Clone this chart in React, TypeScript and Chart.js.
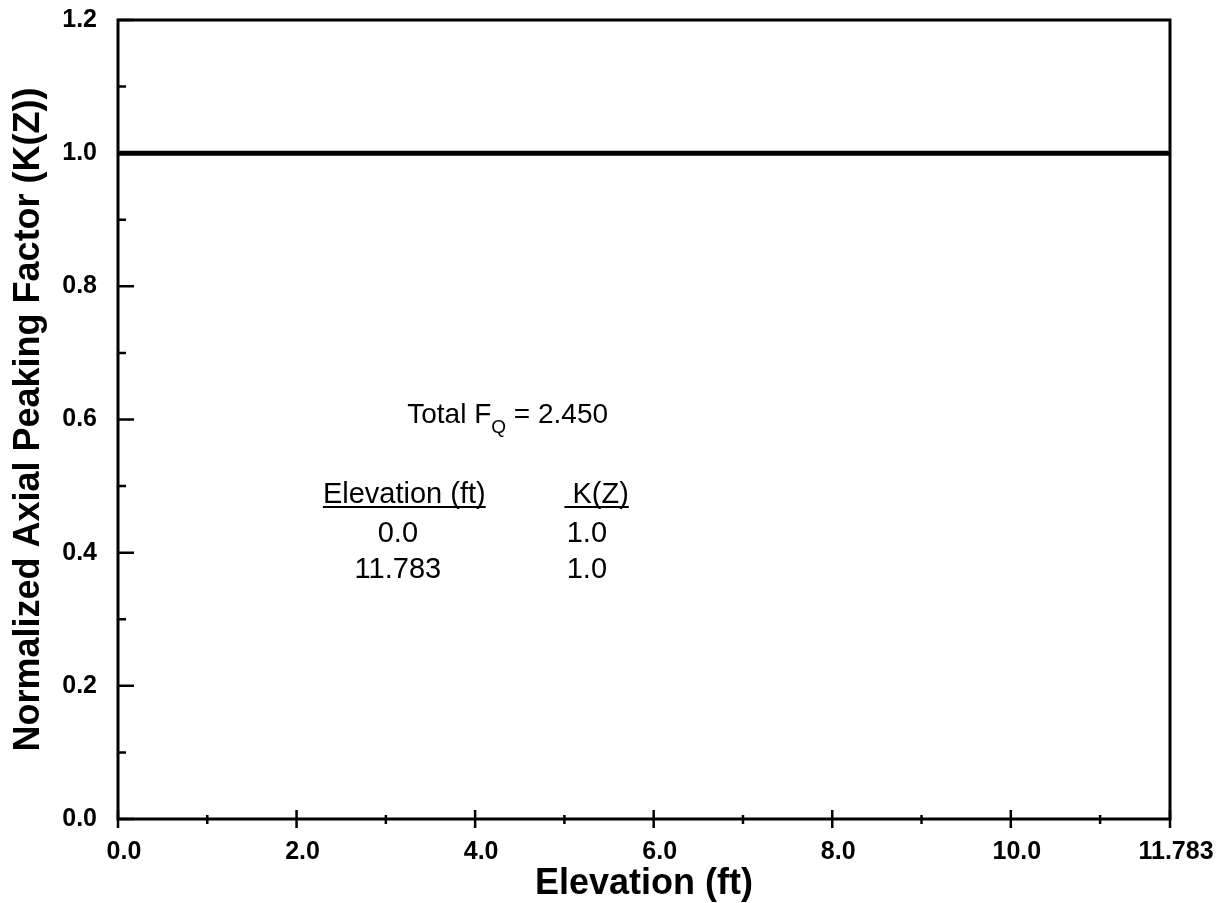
import React, { useEffect, useRef } from "react";
import { Chart, registerables } from "chart.js";

Chart.register(...registerables);

// ---- Data ----
const elevations = [0.0, 11.783];
const kValues = [1.0, 1.0];

const xMajorTicks = [0, 2, 4, 6, 8, 10, 11.783];
const xTickLabels = ["0.0", "2.0", "4.0", "6.0", "8.0", "10.0", "11.783"];
const xMinorTicks = [1, 3, 5, 7, 9, 11];
const yMajorTicks = [0, 0.2, 0.4, 0.6, 0.8, 1.0, 1.2];
const yTickLabels = ["0.0", "0.2", "0.4", "0.6", "0.8", "1.0", "1.2"];
const yMinorTicks = [0.1, 0.3, 0.5, 0.7, 0.9, 1.1];

const totalFQ = "2.450";
const tableHeaders = ["Elevation (ft)", " K(Z)"];
const tableElevations = ["0.0", "11.783"];
const tableK = ["1.0", "1.0"];

const xTitle = "Elevation (ft)";
const yTitle = "Normalized Axial Peaking Factor (K(Z))";

const FONT = "'Liberation Sans', Arial, Helvetica, sans-serif";

const frameTicksPlugin = {
  id: "frameTicks",
  afterDraw(chart: any) {
    const { ctx, chartArea } = chart;
    const xs = chart.scales.x;
    const ys = chart.scales.y;
    const { left, right, top, bottom } = chartArea;
    ctx.save();
    ctx.strokeStyle = "#000";
    ctx.lineWidth = 3;
    ctx.strokeRect(left, top, right - left, bottom - top);

    ctx.lineWidth = 2.5;
    ctx.beginPath();
    yMajorTicks.forEach((v) => {
      const p = ys.getPixelForValue(v);
      ctx.moveTo(left, p);
      ctx.lineTo(left + 16, p);
    });
    yMinorTicks.forEach((v) => {
      const p = ys.getPixelForValue(v);
      ctx.moveTo(left, p);
      ctx.lineTo(left + 8, p);
    });
    xMajorTicks.forEach((v) => {
      const p = xs.getPixelForValue(v);
      ctx.moveTo(p, bottom - 9);
      ctx.lineTo(p, bottom + 9);
    });
    xMinorTicks.forEach((v) => {
      const p = xs.getPixelForValue(v);
      ctx.moveTo(p, bottom - 4);
      ctx.lineTo(p, bottom + 5);
    });
    ctx.stroke();

    // ---- annotation ----
    const px = (v: number) => xs.getPixelForValue(v);
    const py = (v: number) => ys.getPixelForValue(v);
    ctx.fillStyle = "#000";
    ctx.textBaseline = "alphabetic";
    ctx.textAlign = "left";

    // Total F_Q = 2.450
    let x = px(3.24);
    const yb = py(0.595);
    ctx.font = `28px ${FONT}`;
    ctx.fillText("Total F", x, yb);
    x += ctx.measureText("Total F").width;
    ctx.font = `19px ${FONT}`;
    ctx.fillText("Q", x, yb + 10);
    x += ctx.measureText("Q").width;
    ctx.font = `28px ${FONT}`;
    ctx.fillText(" = " + totalFQ, x, yb);

    // table header, underlined
    ctx.font = `29px ${FONT}`;
    ctx.lineWidth = 2;
    const hb = py(0.4746);
    const headerX = [px(2.295), px(5.0)];
    tableHeaders.forEach((h, i) => {
      ctx.fillText(h, headerX[i], hb);
      const w = ctx.measureText(h).width;
      ctx.beginPath();
      ctx.moveTo(headerX[i], hb + 4);
      ctx.lineTo(headerX[i] + w, hb + 4);
      ctx.stroke();
    });

    const rowBase = [py(0.416), py(0.362)];
    tableElevations.forEach((e, i) => {
      ctx.textAlign = "center";
      ctx.fillText(e, px(3.135), rowBase[i]);
      ctx.textAlign = "left";
      ctx.fillText(tableK[i], px(5.026), rowBase[i]);
    });
    ctx.restore();
  },
};

export default function App() {
  const canvasRef = useRef<HTMLCanvasElement | null>(null);

  useEffect(() => {
    if (!canvasRef.current) return;
    const chart = new Chart(canvasRef.current, {
      type: "scatter",
      data: {
        datasets: [
          {
            data: elevations.map((x, i) => ({ x, y: kValues[i] })),
            borderColor: "#000",
            backgroundColor: "#000",
            borderWidth: 5,
            pointRadius: 0,
            showLine: true,
            clip: false as any,
          },
        ],
      },
      options: {
        animation: false,
        responsive: false,
        layout: { padding: { top: 20, right: 56, left: 0, bottom: 0 } },
        plugins: { legend: { display: false }, tooltip: { enabled: false } },
        scales: {
          x: {
            type: "linear",
            min: 0,
            max: 11.783,
            afterBuildTicks: (s: any) => {
              s.ticks = xMajorTicks.map((v) => ({ value: v }));
            },
            afterFit: (s: any) => {
              s.height = 84;
              s.paddingLeft = 0;
              s.paddingRight = 0;
              s.paddingTop = 0;
              s.paddingBottom = 0;
            },
            ticks: {
              callback: (_v: any, i: number) => xTickLabels[i],
              font: { family: FONT, size: 25, weight: "bold" },
              color: "#000",
              padding: 18,
              labelOffset: 6,
              maxRotation: 0,
              autoSkip: false,
            },
            grid: { display: false, drawTicks: false },
            border: { display: false },
            title: {
              display: true,
              text: xTitle,
              font: { family: FONT, size: 36, weight: "bold" },
              color: "#000",
              padding: { top: 0, bottom: -3 },
            },
          },
          y: {
            type: "linear",
            min: 0,
            max: 1.2,
            afterBuildTicks: (s: any) => {
              s.ticks = yMajorTicks.map((v) => ({ value: v }));
            },
            afterFit: (s: any) => {
              s.width = 118;
              s.paddingLeft = 0;
              s.paddingRight = 0;
              s.paddingTop = 0;
              s.paddingBottom = 0;
            },
            ticks: {
              callback: (_v: any, i: number) => yTickLabels[i],
              font: { family: FONT, size: 25, weight: "bold" },
              color: "#000",
              padding: 21,
              autoSkip: false,
            },
            grid: { display: false, drawTicks: false },
            border: { display: false },
            title: {
              display: true,
              text: yTitle,
              font: { family: FONT, size: 36, weight: "bold" },
              color: "#000",
              padding: { top: 7, bottom: 0 },
            },
          },
        },
      },
      plugins: [frameTicksPlugin],
    });
    return () => chart.destroy();
  }, []);

  return (
    <div style={{ position: "absolute", left: 0, top: 0, width: 1226, height: 903, background: "#fff" }}>
      <canvas ref={canvasRef} width={1226} height={903} />
    </div>
  );
}
